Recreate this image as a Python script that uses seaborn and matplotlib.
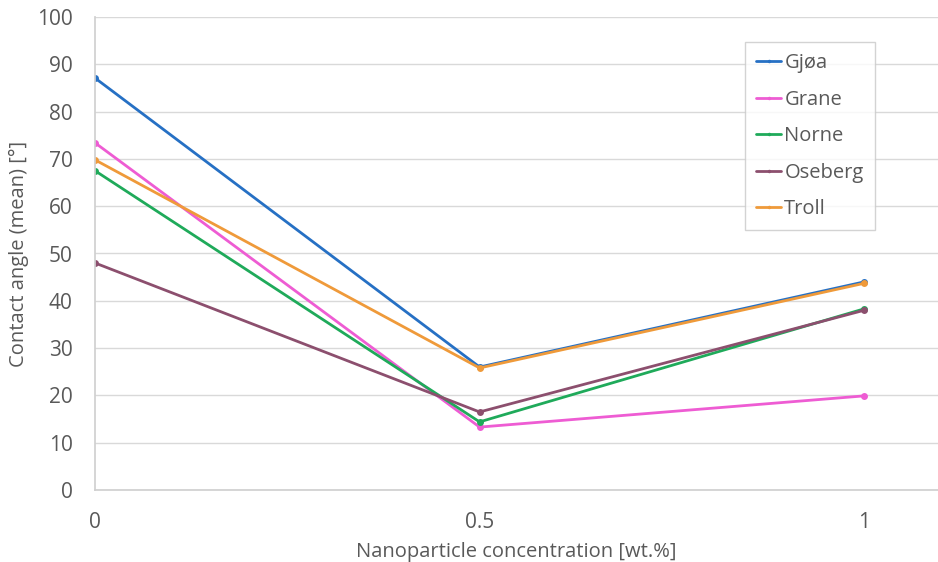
import numpy as np
import pandas as pd
import matplotlib
matplotlib.use("Agg")
import matplotlib.pyplot as plt
import seaborn as sns

concentration = [0, 0.5, 1]
fields = ["Gjøa", "Grane", "Norne", "Oseberg", "Troll"]
gjoa = [87.1, 26.0, 44.0]
grane = [73.4, 13.3, 19.9]
norne = [67.5, 14.4, 38.3]
oseberg = [48.0, 16.5, 38.0]
troll = [69.8, 25.8, 43.7]
colors = ["#2670c4", "#ee5cd3", "#1faa5a", "#8c4f6e", "#ef9a3a"]
yticks = [0, 10, 20, 30, 40, 50, 60, 70, 80, 90, 100]

series = [gjoa, grane, norne, oseberg, troll]
df = pd.DataFrame({
    "x": concentration * len(fields),
    "y": [v for s in series for v in s],
    "field": [f for f in fields for _ in concentration],
})

sns.set_theme(style="white")
plt.rcParams['font.family'] = ['Open Sans', 'DejaVu Sans']
txt = "#595959"

fig = plt.figure(figsize=(9.38, 5.62), dpi=100)
ax = fig.add_axes([95/938, 72/562, 1 - 95/938, (490-17)/562])

sns.lineplot(data=df, x="x", y="y", hue="field", palette=colors,
             marker="o", markersize=5, markeredgewidth=0, linewidth=2,
             ax=ax, legend=True)

ax.set_xlim(0, 1.096)
ax.set_ylim(0, 100)
ax.set_yticks(yticks)
ax.set_xticks(concentration)
ax.set_xticklabels(["0", "0.5", "1"])
ax.grid(axis="y", color="#d9d9d9", linewidth=1)
ax.set_axisbelow(True)
for s in ["top", "right"]:
    ax.spines[s].set_visible(False)
ax.spines["left"].set_color("#d0d0d0")
ax.spines["bottom"].set_color("#d0d0d0")
ax.tick_params(axis="both", length=0, labelsize=15, labelcolor=txt)
ax.tick_params(axis="y", pad=16)
ax.tick_params(axis="x", pad=16)
ax.set_xlabel("Nanoparticle concentration [wt.%]", fontsize=14.5, color=txt, labelpad=6)
ax.set_ylabel("Contact angle (mean) [°]", fontsize=14.5, color=txt, labelpad=6)

leg = ax.legend(loc="upper left", frameon=True, fancybox=False,
                fontsize=14.5, handlelength=1.25, handletextpad=0.15,
                labelspacing=0.82, borderpad=0.55, borderaxespad=0,
                markerscale=0.5)
leg.set_bbox_to_anchor(((745-95)/843, 1 - (42-17)/473), transform=ax.transAxes)
leg.get_frame().set_edgecolor("#c8c8c8")
leg.get_frame().set_linewidth(1)
for t in leg.get_texts():
    t.set_color(txt)

fig.savefig("out.png", dpi=100)
